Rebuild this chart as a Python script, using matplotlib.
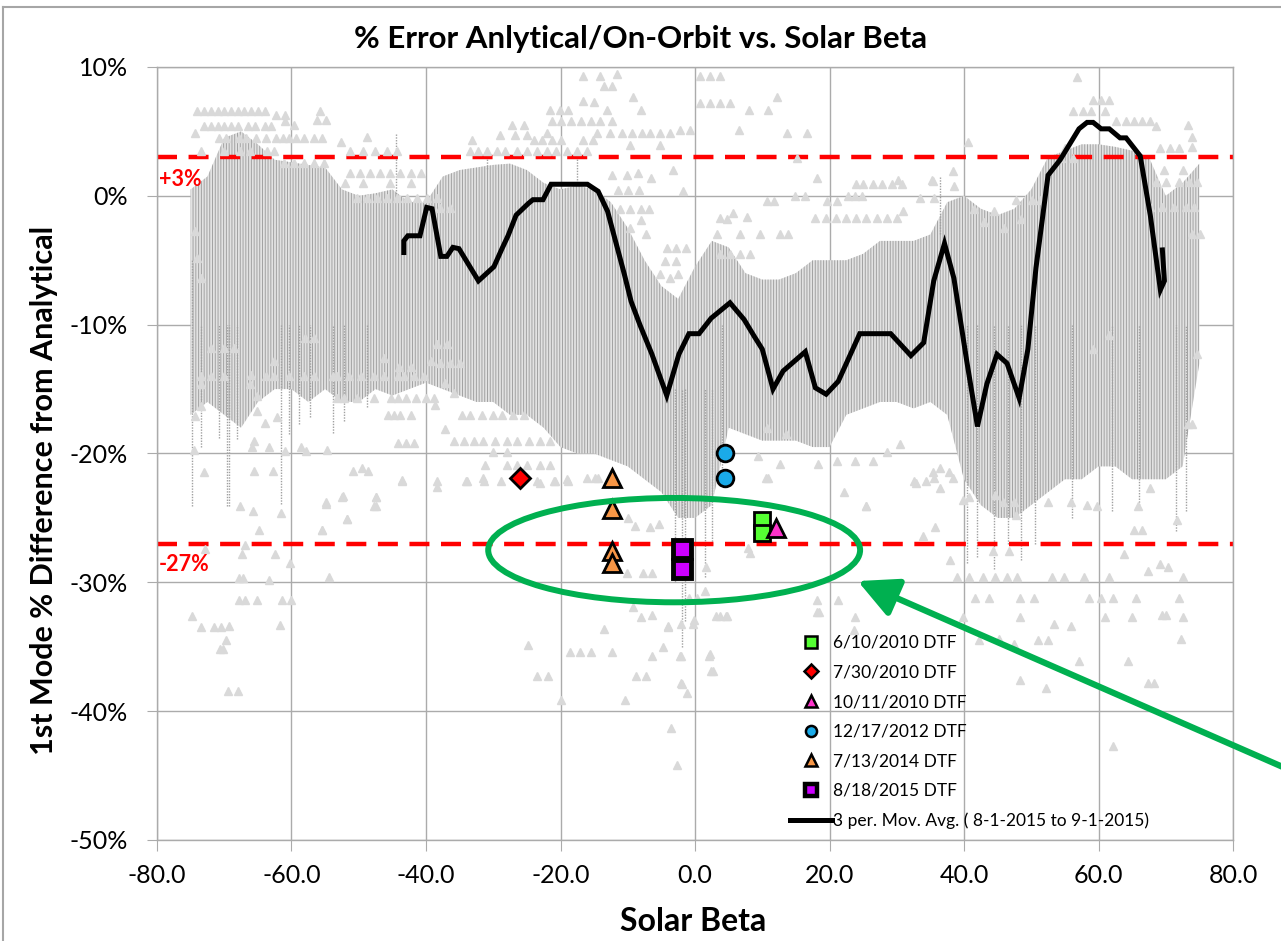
import matplotlib
matplotlib.use("Agg")
import matplotlib.pyplot as plt
from matplotlib.lines import Line2D
from matplotlib.patches import Ellipse

plt.rcParams["font.family"] = ["Lato", "DejaVu Sans"]
plt.rcParams["hatch.linewidth"] = 0.7

# 3 per. moving average, 8-1-2015 to 9-1-2015
avg_beta = [-43.3, -43.3, -42.7, -40.9, -39.9, -39.1, -37.8, -36.9, -36.0, -35.1, -32.2,
            -29.9, -28.7, -27.8, -26.6, -24.8, -24.1, -22.6, -21.4, -16.0, -14.4, -13.0,
            -10.5, -9.5, -8.2, -6.4, -4.2, -2.4, -0.9, 0.6, 2.4, 5.2, 7.3, 8.8, 10.0,
            11.6, 13.1, 16.4, 17.9, 19.5, 21.3, 24.5, 29.1, 32.1, 34.0, 35.5, 37.1, 38.5,
            40.4, 42.0, 43.4, 44.9, 46.4, 48.2, 49.5, 50.7, 52.5, 54.3, 57.1, 58.3, 59.2,
            60.4, 61.6, 63.2, 64.1, 66.2, 67.7, 69.2, 69.8, 69.5]
avg_err = [-4.4, -3.5, -3.1, -3.1, -0.9, -1.0, -4.7, -4.7, -4.0, -4.1, -6.6,
           -5.5, -4.1, -3.1, -1.5, -0.6, -0.3, -0.3, 0.9, 0.9, 0.35, -1.2,
           -6.1, -8.2, -10.0, -12.3, -15.5, -12.3, -10.7, -10.7, -9.5, -8.3, -9.6, -10.9, -11.9,
           -15.0, -13.6, -12.1, -14.9, -15.4, -14.4, -10.7, -10.7, -12.4, -11.4, -6.6, -3.7, -6.4,
           -12.8, -17.9, -14.6, -12.3, -13.0, -15.7, -11.9, -5.6, 1.6, 2.8, 5.2, 5.7, 5.7,
           5.2, 5.2, 4.5, 4.5, 3.1, -1.5, -7.3, -6.6, -4.2]

# DTF test points (beta, % error)
dtf_0610_x = [10.0, 10.0]
dtf_0610_y = [-25.2, -26.2]
dtf_0730_x = [-26.0]
dtf_0730_y = [-21.9]
dtf_1011_x = [12.0]
dtf_1011_y = [-25.8]
dtf_1217_x = [4.5, 4.5]
dtf_1217_y = [-20.0, -21.9]
dtf_0713_x = [-12.4, -12.4, -12.4, -12.4]
dtf_0713_y = [-21.9, -24.3, -27.6, -28.5]
dtf_0818_x = [-2.0, -2.0]
dtf_0818_y = [-27.4, -29.0]

# same DTF points as seen through the on-orbit cloud
shade_0730_x, shade_0730_y = [-26.0], [-14.0]
shade_1011_x, shade_1011_y = [12.0, 12.0], [-8.0, -11.7]
shade_1217_x, shade_1217_y = [4.6, 4.6], [-16.3, -17.2]
shade_0713_x, shade_0713_y = [-12.4, -12.4], [-11.0, -11.6]
shade_0818_x, shade_0818_y = [-2.0, -2.0], [-14.9, -17.3]

# on-orbit cloud: extent of the dotted traces
band_x = [-75, -72.5, -70, -67.5, -65, -62.5, -60, -57.5, -55, -52.5, -50, -47.5, -45,
          -42.5, -40, -37.5, -35, -32.5, -30, -27.5, -25, -22.5, -20, -17.5, -15, -12.5,
          -10, -7.5, -5, -2.5, 0, 2.5, 5, 7.5, 10, 12.5, 15, 17.5, 20, 22.5, 25, 27.5, 30,
          32.5, 35, 37.5, 40, 42.5, 45, 47.5, 50, 52.5, 55, 57.5, 60, 62.5, 65, 67.5, 70,
          72.5, 75]
band_top = [0.5, 1.5, 4.5, 5.0, 4.0, 2.8, 2.6, 2.4, 2.2, 0.5, 0.0, 0.2, 0.5,
            -0.5, -0.5, 1.5, 2.0, 2.2, 2.4, 2.5, 2.0, 1.0, 0.5, 0.8, 0.5, -0.5,
            -2.5, -5.0, -7.0, -8.0, -5.5, -3.5, -4.0, -6.0, -6.5, -6.5, -6.0, -5.0, -5.0, -5.0,
            -4.5, -3.5, -3.5, -3.5, -3.0, -0.5, 0.0, -1.0, -1.5, -1.0, 0.5, 3.0, 3.5, 4.0, 4.0,
            3.8, 3.5, 3.0, 0.0, 1.0, 2.5]
band_bot = [-17, -16, -17, -18, -16, -15, -15, -16, -15, -16, -16, -15, -15.5,
            -15, -14.5, -15, -15.5, -16, -16, -17, -17, -18, -19.5, -20, -20, -20.5,
            -21, -22, -23, -25, -25, -24, -18, -18.5, -19, -19, -19, -19.5, -19.5, -17,
            -16.5, -16, -16, -16.5, -16, -17, -22, -24, -25, -25, -24, -23, -22, -22, -21,
            -21, -22, -22, -22, -21, -13]

# long single traces
strand_x = [-74.8, -73.5, -70.8, -69.6, -69.3, -68.1, -61.6, -60.3, -58.9, -57.3, -53.8,
            -52.2, -48.8, -44.5, -31.0, -17.5, -3.0, -2.0, -1.5, 1.5, 2.5, 4.0, 36.5,
            40.5, 42.0, 44.5, 46.5, 48.5, 50.5, 56.0, 62.0, 66.0, 71.5, 73.0]
strand_top = [-5, -10, -10, -10, -10, -10, -10, -10, -10, -10, -10,
              -10, -10, 0, 2, 1, -15, -15, -15, -15, -15, -10, -3,
              -10, -10, -10, -10, -10, -10, -10, -10, -10, -10, -10]
strand_bot = [-24.1, -19.5, -18.8, -24.1, -24.1, -18.9, -23.9, -18.5, -17.7, -17.2, -18.4,
              -17.5, -16.4, 4.8, 3.7, 3.7, -30.0, -35.0, -33.0, -29.6, -27.0, -22.0, 1.5,
              -28.5, -28.0, -29.0, -27.0, -28.3, -27.0, -25.0, -24.5, -24.0, -26.0, -24.5]

# on-orbit points outside the dense traces
upper_tri_x = [-74.0, -73.0, -72.0, -71.0, -70.0, -69.0, -68.0, -67.0, -66.0, -65.0, -64.0,
               -62.3, -61.0, -55.8,
               -73.0, -72.0, -71.0, -70.0, -69.0, -68.0, -66.5, -65.5, -64.0, -63.0,
               -60.9, -56.2, -54.9, -59.6, -74.3,
               -70.8, -69.8, -67.8, -66.8, -65.3, -63.8, -62.3, -61.3, -60.3, -59.3, -58.1,
               -56.6, -55.4, -52.7, -48.8,
               -73.5, -70.0, -67.6, -66.1, -63.6, -62.6, -51.3, -49.3, -47.6, -45.8, -44.3,
               -61.1, -59.6, -58.1, -56.6, -55.2,
               -51.3, -49.8, -48.3, -46.8, -45.3, -43.8, -42.3, -40.8,
               -52.0, -49.3, -45.3, -42.3,
               -50.3, -48.8, -47.3, -45.8, -44.3, -42.8, -41.3, -39.8, -38.3,
               -74.3, -74.0, -73.5,
               -16.6, -14.2, -11.6, -13.6, -12.4, -9.2, -16.7, -15.0,
               -21.6, -20.1, -18.9, -13.1, -8.1,
               -21.3, -19.9, -18.4, -16.9, -15.4, -14.2, -12.4,
               -27.2, -25.5, -29.0, -26.7, -25.0,
               -22.0, -14.6, -12.6, -10.9, -9.4, -7.9, -6.7, -5.2, -3.7,
               -2.2, -0.7, -33.2,
               -24.0, -22.8, -21.3, -19.9, -16.6, -15.1, -9.7, -5.2,
               -33.4, -32.2, -31.0, -29.5, -28.2, -26.5, -25.0, -23.5, -22.0, -20.6, -19.1,
               -17.6, -16.1,
               -3.2, -6.5, -8.5, -10.1, -12.4, -1.8, -11.4, -9.9, -8.4,
               -11.1, -9.6, -8.1, -6.9, -8.1, -9.6, -7.3, -4.5, -2.8, -4.2, -2.8, -1.3,
               -5.2, -3.7, -2.5, -37.9, -36.4,
               0.74, 2.2, 3.7, 0.74, 2.2, 3.7, 5.2, 8.1, 10.9, 12.2,
               6.6, 13.7, 16.7, 15.1, 18.1, 14.9, 16.4, 10.7, 11.8,
               5.7, 3.7, 4.7, 7.7,
               24.0, 25.0, 26.5, 27.8, 29.3, 30.8, 22.8, 23.8, 24.8, 21.1, 19.6,
               30.2, 35.4, 38.4, 40.6,
               17.9, 19.5, 21.0, 22.5, 24.0, 25.5, 27.0, 28.5, 30.0,
               31.0, 33.5, 35.5,
               3.2, 6.7, 9.7, 12.6, 13.9, 3.7, 5.2, 6.7, 8.2,
               56.8, 59.2, 60.4, 61.6, 56.2, 57.7, 58.9, 61.0,
               62.6, 64.1, 65.3, 66.5, 67.7, 68.6, 73.3, 73.9, 73.9,
               55.0, 54.4, 56.2, 69.2, 70.7, 71.9, 69.8, 72.5,
               68.6, 70.1, 71.9, 73.5, 74.7, 67.7, 69.5, 71.3, 73.0, 74.2,
               73.9, 75.1, 35.2, 38.5, 47.7, 50.1, 51.3,
               41.5, 43.0, 44.5, 46.0, 48.5]
upper_tri_y = [6.55, 6.55, 6.55, 6.55, 6.55, 6.55, 6.55, 6.55, 6.55, 6.55, 6.55,
               6.3, 6.3, 6.55,
               5.4, 5.4, 5.4, 5.4, 5.4, 5.4, 5.4, 5.4, 5.4, 5.4,
               5.8, 5.9, 5.9, 5.5, 4.9,
               4.5, 4.5, 4.5, 4.5, 4.5, 4.5, 4.5, 4.5, 4.5, 4.5, 4.5,
               4.5, 4.5, 4.2, 4.6,
               3.45, 3.45, 3.45, 3.45, 3.45, 3.45, 3.45, 3.45, 3.45, 3.45, 3.45,
               2.55, 2.55, 2.55, 2.55, 2.55,
               1.8, 1.8, 1.8, 1.8, 1.8, 1.8, 1.8, 1.8,
               1.0, 1.0, 1.0, 1.0,
               -0.17, -0.17, -0.17, -0.17, -0.17, -0.17, -0.17, -0.17, -0.17,
               -2.75, -4.8, -6.4,
               9.34, 9.34, 9.45, 8.49, 8.49, 7.64, 7.33, 7.28,
               6.68, 6.68, 6.68, 6.68, 6.68,
               5.78, 5.78, 5.78, 5.78, 5.78, 5.78, 5.78,
               5.52, 5.52, 4.69, 4.69, 4.69,
               4.87, 4.87, 4.87, 4.87, 4.87, 4.87, 4.87, 4.87, 4.87,
               5.13, 5.13, 4.36,
               4.3, 4.3, 4.3, 4.3, 4.3, 4.3, 3.97, 3.97,
               3.5, 3.5, 3.5, 3.5, 3.5, 3.5, 3.5, 3.5, 3.5, 3.5, 3.5,
               3.5, 3.5,
               2.03, 1.39, 1.77, 1.64, 1.64, 0.35, 0.48, 0.48, 0.48,
               -1.0, -1.0, -1.0, -1.0, -1.84, -2.49, -3.0, -5.07, -5.07, -4.04, -4.04, -4.04,
               -6.1, -6.37, -6.1, -0.94, -0.94,
               9.34, 9.34, 9.34, 7.2, 7.2, 7.2, 7.2, 6.68, 6.68, 7.7,
               5.13, 4.87, 4.87, 2.9, 1.39, 0.0, 0.0, -0.42, -0.42,
               -1.33, -1.7, -1.8, -1.66,
               0.9, 0.9, 0.9, 0.9, 0.9, 0.9, 0.0, 0.0, 0.0, -0.42, -0.42,
               1.25, 1.13, 1.9, 4.2,
               -1.7, -1.7, -1.7, -1.7, -1.7, -1.7, -1.7, -1.7, -1.7,
               -1.2, -0.2, -0.2,
               -3.0, -3.0, -3.0, -3.0, -3.0, -4.5, -4.5, -4.5, -4.5,
               9.26, 7.45, 7.45, 7.45, 6.6, 6.6, 6.6, 6.6,
               5.8, 5.8, 5.8, 5.8, 5.8, 5.4, 5.5, 4.6, 3.8,
               3.7, 2.9, 2.9, 3.7, 3.7, 3.7, 2.0, 2.0,
               1.1, 1.1, 1.1, 1.1, 1.1, -0.9, -0.9, -0.9, -0.9, -0.9,
               -2.97, -2.97, 1.25, 0.73, -0.3, -0.3, -0.3,
               -1.0, -2.0, -1.2, -2.5, -1.8]

lower_tri_x = [-73.5, -72.0, -70.0, -63.8, -62.6, -60.4, -58.1, -56.6, -53.9, -53.2, -51.4,
               -49.7, -47.7, -46.2, -44.2, -43.3, -41.8, -40.3,
               -53.2, -52.2, -50.2, -47.7, -45.2, -44.2, -43.0, -41.5, -40.0, -38.8,
               -45.7, -44.7, -43.8, -42.3, -44.2, -43.0, -41.8,
               -73.5, -73.5, -74.3, -74.5, -73.0, -66.1, -65.1, -65.1, -63.9, -62.2,
               -65.6, -65.8, -63.4, -60.9, -58.6, -57.9, -54.7, -65.6, -62.7,
               -65.7, -61.5, -64.8, -67.6, -72.8, -67.3, -66.9, -62.4, -60.2,
               -55.5, -54.9, -52.5, -51.7, -50.8, -49.5, -48.6, -47.5, -47.7, -43.5,
               -54.4, -67.8, -67.2, -63.4, -67.8, -66.9, -65.2, -61.4, -60.1,
               -74.8, -73.5, -71.5, -70.5, -69.3, -69.7, -70.6, -70.2, -61.7,
               -69.5, -68.0,
               -72.0, -70.0, -68.6, -66.0, -62.6, -58.0, -56.6, -46.3, -44.0, -42.3, -39.3,
               -38.4, -36.9, -37.9, -36.4, -34.9,
               -38.7, -37.2, -35.9,
               -34.7, -33.5, -31.7, -30.0, -28.7, -27.0, -25.5, -37.2,
               -35.9, -34.4, -32.9, -31.5, -29.7, -28.0, -26.5, -24.7, -23.0, -21.6,
               -30.0, -28.0,
               -31.2, -28.0, -26.5, -25.0, -23.0, -21.6,
               -31.5, -33.9, -38.4, -23.5, -20.8, -19.1, -16.1, -14.9, -14.4,
               -43.6, -38.3, -34.0, -31.4, -28.9, -23.1, -21.0, -18.9,
               -52.4, -54.8, -47.5, -47.5, -51.8, -55.4,
               -9.9, -8.9, -6.7, -5.4, -10.1, -7.7, -6.4,
               -9.2, -8.1, -13.6, -24.8, -18.6, -17.1, -15.4, -12.4,
               -23.5, -21.8, -8.8, -7.3, -6.4, -4.0, -4.7, -2.3, -0.1, -2.0,
               -19.9, -10.4,
               10.6, 22.1, 25.5, 18.2, 23.7, 32.8, 35.5, 36.4, 37.9, 38.9, 40.7,
               44.6, 45.8, 47.4, 47.7, 52.5, 55.9, 58.3, 59.8, 65.9, 67.7, 71.6,
               65.3, 66.5, 44.3, 46.7, 63.8, 67.4, 69.2, 70.4,
               40.7, 42.8, 44.6, 46.4, 47.9, 53.1, 54.9, 57.9, 61.6, 72.5,
               41.6, 43.7, 48.3, 50.4, 58.6, 60.4, 62.2, 65.6, 71.9,
               69.5, 70.1, 39.8, 48.3, 61.0, 65.0, 72.5,
               53.4, 55.9, 45.2, 51.0, 52.5, 42.2, 48.3, 67.4, 68.3, 52.2, 57.1,
               64.4, 72.2, 62.2, 47.4,
               -3.6, -2.7, -2.1, -1.2, -2.1, 2.1, 2.4, -4.0, -2.1, -0.3, 4.6, 3.1, -6.4,
               18.5, 21.3, 7.9, -0.9, 0.3,
               10.9, 9.4, 12.6, 18.3, 21.1, 23.8, 26.5, 28.5, 30.5, 32.5, 34.4, 35.4,
               36.4, 37.7, 38.4, 39.9, 25.5, 33.9, 35.7, 8.2, 18.1, 23.8, 10.7, 13.6,
               2.2, 2.7, 1.7, 1.5, 3.7, 4.7,
               74.7, 73.3, 73.9, 59.2, 61.6]
lower_tri_y = [-14.0, -14.0, -14.0, -14.0, -14.0, -14.0, -14.0, -14.0, -14.0, -14.0, -14.0,
               -14.0, -14.0, -14.0, -14.0, -14.0, -14.0, -14.0,
               -15.7, -15.7, -15.7, -15.7, -15.7, -15.7, -15.7, -15.7, -15.7, -15.7,
               -17.0, -17.0, -17.0, -17.0, -19.2, -19.2, -19.2,
               -14.6, -16.3, -17.1, -19.7, -21.4, -14.6, -15.5, -16.7, -17.6, -17.2,
               -19.0, -19.5, -19.5, -19.8, -19.5, -19.8, -19.7, -21.35, -21.35,
               -24.5, -24.6, -25.9, -24.1, -27.4, -27.8, -27.1, -27.8, -28.5,
               -25.9, -23.9, -23.4, -25.05, -21.35, -21.1, -21.35, -23.4, -24.1, -22.05,
               -29.6, -29.7, -29.7, -29.8, -31.4, -31.4, -31.4, -31.4, -31.4,
               -32.6, -33.5, -33.5, -33.5, -33.4, -34.5, -35.2, -35.2, -33.3,
               -38.4, -38.4,
               -11.8, -11.8, -11.8, -13.9, -12.8, -11.0, -11.0, -12.6, -13.3, -13.3, -12.8,
               -11.5, -11.5, -12.95, -12.95, -12.95,
               -16.2, -14.5, -15.3,
               -17.0, -17.0, -17.0, -17.0, -17.0, -17.0, -17.0, -18.1,
               -19.0, -19.0, -19.0, -19.0, -19.0, -19.0, -19.0, -19.0, -19.0, -19.0,
               -19.9, -19.9,
               -20.9, -20.9, -20.9, -20.9, -20.9, -20.9,
               -21.9, -22.1, -22.6, -22.1, -22.1, -22.0, -21.9, -21.9, -21.9,
               -22.1, -22.1, -22.1, -22.1, -22.1, -22.3, -22.1, -22.1,
               -23.3, -23.8, -23.4, -24.1, -25.1, -25.9,
               -25.0, -25.6, -25.7, -25.5, -29.3, -29.3, -29.3,
               -31.9, -32.7, -33.6, -34.9, -35.4, -35.4, -35.4, -35.4,
               -37.3, -37.3, -37.3, -37.3, -35.7, -33.5, -35.0, -35.7, -32.9, -37.9,
               -39.1, -39.1,
               -21.9, -23.0, -24.1, -32.3, -33.7, -22.3, -21.9, -22.7, -28.3, -29.6, -23.4,
               -23.2, -23.8, -23.8, -24.8, -23.8, -23.8, -24.0, -24.1, -24.1, -22.7, -25.2,
               -25.9, -25.9, -27.6, -27.6, -27.8, -29.1, -28.6, -28.8,
               -29.6, -29.6, -29.6, -29.6, -29.6, -29.6, -29.6, -29.6, -29.6, -29.6,
               -31.2, -31.2, -31.2, -31.2, -31.2, -31.2, -31.2, -31.2, -31.2,
               -32.5, -32.5, -32.7, -32.7, -32.7, -32.7, -32.7,
               -33.2, -33.4, -34.4, -34.5, -34.5, -34.5, -37.6, -37.8, -37.8, -38.2, -36.1,
               -36.1, -34.4, -42.7, -34.8,
               -41.3, -44.2, -37.8, -38.6, -35.7, -35.7, -36.9, -33.4, -33.2, -33.2, -32.6,
               -32.6, -32.5,
               -32.3, -31.4, -27.3, -31.2, -31.2,
               -21.9, -20.2, -20.8, -20.8, -20.6, -20.6, -20.6, -19.9, -19.3, -22.1, -22.1, -21.4,
               -21.1, -21.4, -21.9, -23.6, -24.1, -26.4, -25.7, -27.7, -31.4, -32.7, -18.0, -18.5,
               -35.6, -36.9, -28.8, -30.7, -32.6, -32.6,
               -12.3, -17.7, -17.7, -11.9, -10.8]

legend_labels = ["6/10/2010 DTF", "7/30/2010 DTF", "10/11/2010 DTF", "12/17/2012 DTF",
                 "7/13/2014 DTF", "8/18/2015 DTF", "3 per. Mov. Avg. ( 8-1-2015 to 9-1-2015)"]
limit_hi = 3
limit_lo = -27

fig = plt.figure(figsize=(12.81, 9.41), dpi=100)
ax = fig.add_axes([157 / 1281, 1 - 840 / 941, 1076 / 1281, 773 / 941])

grid_c = "#ABABAB"
ax.set_xlim(-80, 80)
ax.set_ylim(-50, 10)
ax.set_xticks(range(-80, 81, 20))
ax.set_xticklabels([f"{v:.1f}" for v in range(-80, 81, 20)])
ax.set_yticks(range(-50, 11, 10))
ax.set_yticklabels([f"{v}%" for v in range(-50, 11, 10)])
ax.grid(True, color=grid_c, lw=1.0, zorder=0)
ax.set_axisbelow(True)
for s in ax.spines.values():
    s.set_color(grid_c)
    s.set_linewidth(1.0)
ax.tick_params(axis="x", length=8, color=grid_c, labelsize=18, pad=9)
ax.tick_params(axis="y", length=7, color=grid_c, labelsize=18, pad=14)

# faded DTF markers sit under the on-orbit cloud
fade = dict(ls="none", alpha=0.55, zorder=1.5, mec="#404040", mew=1.2)
ax.plot(shade_0730_x, shade_0730_y, marker="D", ms=9, mfc="#FF0000", **fade)
ax.plot(shade_1011_x, shade_1011_y, marker="^", ms=12, mfc="#FF33CC", **fade)
ax.plot(shade_1217_x, shade_1217_y, marker="o", ms=12, mfc="#1AAAE8", **fade)
ax.plot(shade_0713_x, shade_0713_y, marker="^", ms=12, mfc="#F79646", **fade)
ax.plot(shade_0818_x, shade_0818_y, marker="s", ms=13, mfc="#CC00FF", **fade)

# on-orbit cloud
ax.fill_between(band_x, band_bot, band_top, facecolor="#E2E2E2", edgecolor="#A2A2A2",
                hatch="||||||", linewidth=0, zorder=2)
ax.vlines(strand_x, strand_bot, strand_top, colors="#A0A0A0", linestyles=(0, (1, 1)),
          linewidth=1.0, zorder=2.1)

for yv in [limit_hi, limit_lo]:
    ax.axhline(yv, color="#FF0000", lw=3.2, dashes=(4.5, 2.6), zorder=2.4)
ax.text(-79.7, 1.25, "+3%", color="#FF0000", fontsize=15.5, fontweight="bold",
        va="center", ha="left", zorder=7)
ax.text(-79.7, -28.6, "-27%", color="#FF0000", fontsize=15.5, fontweight="bold",
        va="center", ha="left", zorder=7)

ax.plot(upper_tri_x, upper_tri_y, ls="none", marker="^", ms=6, color="#D9D9D9", zorder=2.5)
ax.plot(lower_tri_x, lower_tri_y, ls="none", marker="^", ms=6, color="#D9D9D9", zorder=2.5)

ax.plot(avg_beta, avg_err, color="black", lw=3.6, solid_joinstyle="miter", zorder=4)

mk = dict(ls="none", mec="black", zorder=5)
ax.plot(dtf_0610_x, dtf_0610_y, marker="s", ms=11, mfc="#55FF33", mew=2, **mk)
ax.plot(dtf_0730_x, dtf_0730_y, marker="D", ms=10, mfc="#FF0000", mew=2, **mk)
ax.plot(dtf_1011_x, dtf_1011_y, marker="^", ms=13, mfc="#FF33CC", mew=2, **mk)
ax.plot(dtf_1217_x, dtf_1217_y, marker="o", ms=12, mfc="#1AAAE8", mew=2, **mk)
ax.plot(dtf_0713_x, dtf_0713_y, marker="^", ms=13, mfc="#F79646", mew=2, **mk)
ax.plot(dtf_0818_x, dtf_0818_y, marker="s", ms=13, mfc="#CC00FF", mew=3.5, **mk)

# highlight ring and pointer
ax.add_patch(Ellipse((-3.1, -27.5), 55.3, 8.1, fill=False, ec="#00B050", lw=4.3, zorder=6))
ax.annotate("", xy=(24.2, -29.9), xytext=(1.008, 0.181), textcoords="figure fraction",
            arrowprops=dict(arrowstyle="-|>,head_length=1.1,head_width=0.55", lw=4.5,
                            color="#00B050", shrinkA=0, shrinkB=0, mutation_scale=22),
            annotation_clip=False, zorder=6)

handles = [
    Line2D([], [], ls="none", marker="s", ms=8, mfc="#55FF33", mec="black", mew=1.8),
    Line2D([], [], ls="none", marker="D", ms=7, mfc="#FF0000", mec="black", mew=1.8),
    Line2D([], [], ls="none", marker="^", ms=8, mfc="#FF33CC", mec="black", mew=1.8),
    Line2D([], [], ls="none", marker="o", ms=8, mfc="#1AAAE8", mec="black", mew=1.8),
    Line2D([], [], ls="none", marker="^", ms=8, mfc="#F79646", mec="black", mew=1.8),
    Line2D([], [], ls="none", marker="s", ms=8, mfc="#CC00FF", mec="black", mew=3.2),
    Line2D([], [], color="black", lw=3.6),
]
ax.legend(handles, legend_labels, loc="upper left", frameon=False, fontsize=12.5,
          bbox_to_anchor=(790 / 1281, 1 - 635 / 941), bbox_transform=fig.transFigure,
          borderaxespad=0, borderpad=0, handlelength=2.4, handletextpad=0.1,
          labelspacing=0.78)

fig.text(641 / 1281, 1 - 39 / 941, "% Error Anlytical/On-Orbit vs. Solar Beta",
         ha="center", va="center", fontsize=22.5, fontweight="bold")
fig.text(693 / 1281, 1 - 931 / 941, "Solar Beta", ha="center", va="baseline",
         fontsize=23, fontweight="bold")
fig.text(44 / 1281, 1 - 490 / 941, "1st Mode % Difference from Analytical", rotation=90,
         ha="center", va="center", fontsize=22, fontweight="bold")

# chart area border
bc = "#A6A6A6"
fig.add_artist(Line2D([3 / 1281, 1], [1 - 7 / 941, 1 - 7 / 941], color=bc, lw=1.5))
fig.add_artist(Line2D([3 / 1281, 3 / 1281], [0, 1 - 7 / 941], color=bc, lw=1.5))

fig.savefig("out.png", dpi=100)
